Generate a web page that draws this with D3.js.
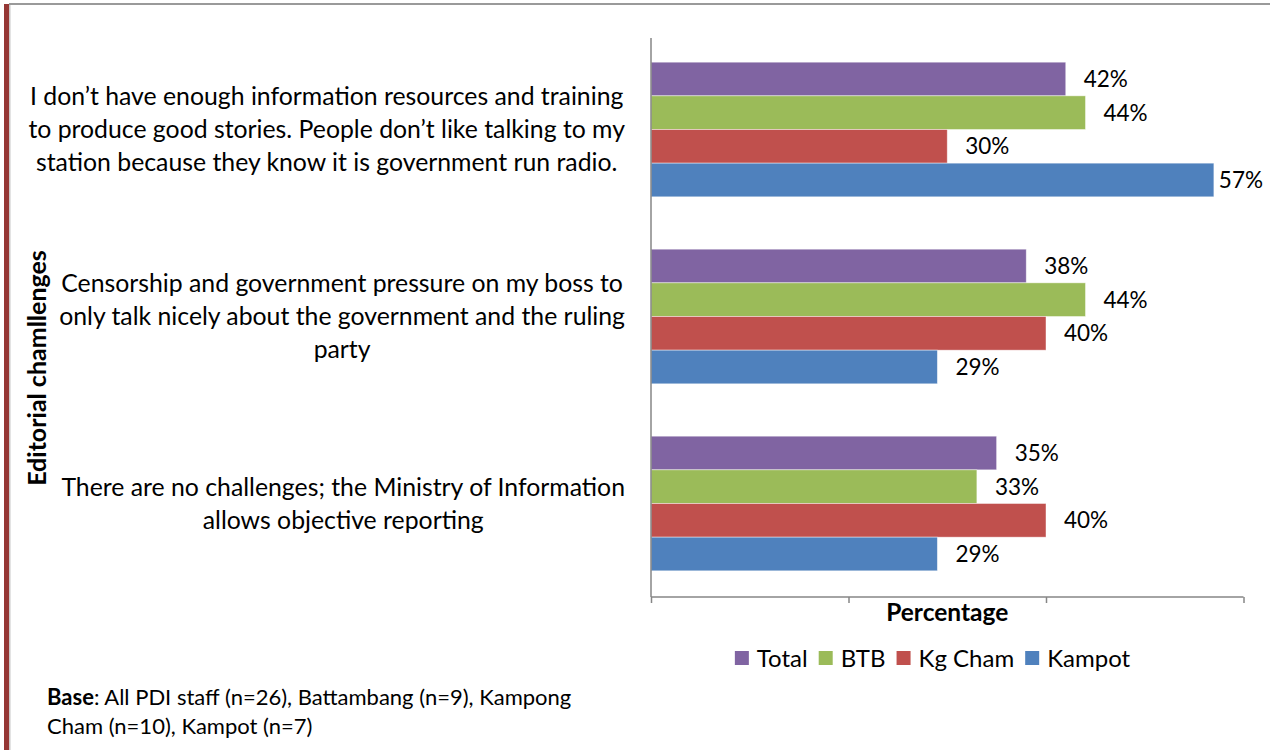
<!DOCTYPE html>
<html>
<head>
<meta charset="utf-8">
<script src="https://cdn.jsdelivr.net/npm/d3@7"></script>
<style>
  html, body { margin: 0; padding: 0; background: #fff; }
  svg { display: block; font-family: Lato, "Open Sans", sans-serif; }
</style>
</head>
<body>
<svg id="chart" width="1270" height="750"></svg>
<script>
// Editorial challenges, share of PDI staff by province
const categories = [
  ["I don\u2019t have enough information resources and training",
   "to produce good stories. People don\u2019t like talking to my",
   "station because they know it is government run radio."],
  ["Censorship and government pressure on my boss to",
   "only talk nicely about the government and the ruling",
   "party"],
  ["There are no challenges; the Ministry of Information",
   "allows objective reporting"]
];
const seriesNames = ["Total", "BTB", "Kg Cham", "Kampot"];
const seriesColors = ["#8064A2", "#9BBB59", "#C0504D", "#4F81BD"];
const totalValues   = [42, 38, 35];
const btbValues     = [44, 44, 33];
const kgChamValues  = [30, 40, 40];
const kampotValues  = [57, 29, 29];
const xTicks = [0, 20, 40, 60];
const yAxisTitle = "Editorial chamllenges";
const xAxisTitle = "Percentage";
const baseNoteBold = "Base";
const baseNoteLines = [": All PDI staff (n=26), Battambang (n=9), Kampong",
                       "Cham (n=10), Kampot (n=7)"];

const seriesValues = [totalValues, btbValues, kgChamValues, kampotValues];
const catIdx = categories.map((c, i) => i);

const svg = d3.select("#chart");

// page frame: red rule on the left, grey rule on top
svg.append("rect").attr("x", 4).attr("y", 4).attr("width", 5).attr("height", 746).attr("fill", "#953735");
svg.append("rect").attr("x", 9).attr("y", 4).attr("width", 1.5).attr("height", 746).attr("fill", "#c8c8c8");
svg.append("rect").attr("x", 9).attr("y", 3).attr("width", 1261).attr("height", 2).attr("fill", "#9a9a9a");

const plot = { left: 651, right: 1243.5, top: 36, bottom: 597 };

const x = d3.scaleLinear().domain([0, 60]).range([plot.left, plot.right]);
const y = d3.scaleBand().domain(catIdx).range([plot.top, plot.bottom])
  .paddingInner(0.28).paddingOuter(0.14);
const ySub = d3.scaleBand().domain(seriesNames).range([0, y.bandwidth()]);

// bars
const groups = svg.append("g").selectAll("g").data(catIdx).join("g")
  .attr("transform", d => `translate(0,${y(d)})`);

groups.selectAll("rect")
  .data(ci => seriesNames.map((s, si) => ({ s, si, v: seriesValues[si][ci] })))
  .join("rect")
  .attr("x", x(0))
  .attr("y", d => ySub(d.s))
  .attr("width", d => x(d.v) - x(0))
  .attr("height", ySub.bandwidth())
  .attr("fill", d => seriesColors[d.si])
  .attr("stroke", "#ffffff")
  .attr("stroke-opacity", 0.55)
  .attr("stroke-width", 0.8);

// value labels, kept inside the chart's right edge
groups.selectAll("text")
  .data(ci => seriesNames.map((s, si) => ({ s, si, v: seriesValues[si][ci] })))
  .join("text")
  .attr("y", d => ySub(d.s) + ySub.bandwidth() / 2)
  .attr("dy", "0.36em")
  .attr("font-size", 22.5)
  .attr("fill", "#000")
  .text(d => d.v + "%")
  .each(function (d) {
    const w = this.getComputedTextLength();
    let tx = x(d.v) + 18;
    if (tx + w > 1263) tx = Math.max(x(d.v) + 3, 1263 - w);
    d3.select(this).attr("x", tx);
  });

// axes
const axisColor = "#868686";
const xAxis = svg.append("g").attr("transform", `translate(0,${plot.bottom})`)
  .call(d3.axisBottom(x).tickValues(xTicks).tickSize(6).tickFormat(""));
xAxis.selectAll("line").attr("stroke", axisColor).attr("stroke-width", 1.5);
xAxis.select(".domain").remove();
xAxis.append("line").attr("x1", plot.left).attr("x2", plot.right)
  .attr("stroke", axisColor).attr("stroke-width", 1.5);

svg.append("line").attr("x1", plot.left).attr("x2", plot.left)
  .attr("y1", plot.top + 2).attr("y2", plot.bottom)
  .attr("stroke", axisColor).attr("stroke-width", 1.5);

// category labels: wrapped lines centred in a box right-aligned to 625
const labelRight = 625, lineH = 33;
categories.forEach((lines, ci) => {
  const g = svg.append("g");
  const texts = g.selectAll("text").data(lines).join("text")
    .attr("font-size", 24.8).attr("fill", "#000")
    .attr("text-anchor", "middle")
    .text(d => d);
  let maxW = 0;
  texts.each(function () { maxW = Math.max(maxW, this.getComputedTextLength()); });
  const cx = labelRight - maxW / 2;
  const cy = y(ci) + y.bandwidth() / 2;
  texts.attr("x", cx)
    .attr("y", (d, i) => cy + (i - (lines.length - 1) / 2) * lineH)
    .attr("dy", "0.36em");
});

// axis titles
svg.append("text")
  .attr("transform", "translate(37,368) rotate(-90)")
  .attr("text-anchor", "middle").attr("dy", "0.36em")
  .attr("font-size", 25).attr("font-weight", "bold")
  .text(yAxisTitle);

svg.append("text")
  .attr("x", (plot.left + plot.right) / 2).attr("y", 621)
  .attr("text-anchor", "middle")
  .attr("font-size", 24.5).attr("font-weight", "bold")
  .text(xAxisTitle);

// legend
const legend = svg.append("g");
const items = legend.selectAll("g").data(seriesNames).join("g");
items.append("rect").attr("width", 14).attr("height", 14).attr("y", -7)
  .attr("fill", (d, i) => seriesColors[i]);
items.append("text").attr("x", 22).attr("dy", "0.36em")
  .attr("font-size", 24).text(d => d);
let lx = 0;
items.each(function () {
  d3.select(this).attr("transform", `translate(${lx},0)`);
  lx += 22 + this.querySelector("text").getComputedTextLength() + 11;
});
const legendW = lx - 11;
legend.attr("transform", `translate(${932.5 - legendW / 2},658)`);

// base note
const note = svg.append("g").attr("font-size", 22);
const first = note.append("text").attr("x", 47).attr("y", 705);
first.append("tspan").attr("font-weight", "bold").text(baseNoteBold);
first.append("tspan").text(baseNoteLines[0]);
note.append("text").attr("x", 47).attr("y", 734).text(baseNoteLines[1]);
</script>
</body>
</html>
